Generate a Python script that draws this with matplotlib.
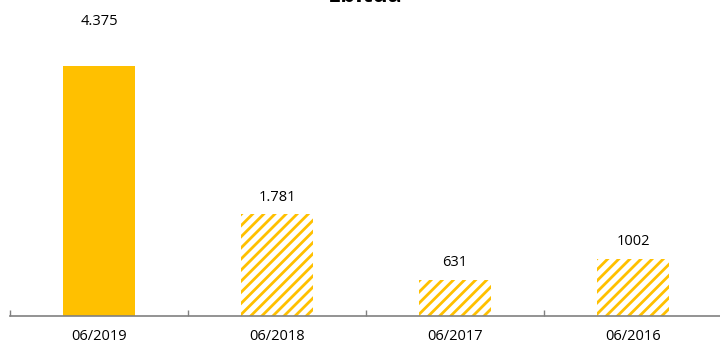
import matplotlib.pyplot as plt
import numpy as np

# chart data
categories = ['06/2019', '06/2018', '06/2017', '06/2016']
values = [4375, 1781, 631, 1002]
labels = ['4.375', '1.781', '631', '1002']
hatched = [False, True, True, True]

yellow = '#FFC000'
plt.rcParams['font.family'] = ['Open Sans', 'DejaVu Sans']
plt.rcParams['hatch.linewidth'] = 2.0
plt.rcParams['hatch.color'] = yellow

fig = plt.figure(figsize=(7.2, 3.43), dpi=100)
ax = fig.add_axes([10 / 720, 27 / 343, 712 / 720, 306 / 343])

x = np.arange(len(categories))
for xi, v, h in zip(x, values, hatched):
    if h:
        ax.bar(xi, v, width=0.4, color='white', edgecolor=yellow,
               linewidth=0, hatch='///')
    else:
        ax.bar(xi, v, width=0.4, color=yellow, linewidth=0)

# value labels (the first one sits higher in the original)
for xi, v, lab in zip(x, values, labels):
    off = 780 if xi == 0 else 300
    ax.text(xi, v + off, lab, ha='center', va='center', fontsize=10.5,
            color='#000000')

ax.set_xlim(-0.5, 3.5)
ax.set_ylim(0, 5355)
ax.set_xticks(x)
ax.set_xticklabels(categories, fontsize=10.5)
ax.set_xticks(np.arange(-0.5, 4, 1), minor=True)
ax.tick_params(axis='x', which='major', length=0, pad=9)
ax.tick_params(axis='x', which='minor', direction='in', length=4,
               color='#808080', width=1)
ax.set_yticks([])
for s in ['top', 'left', 'right']:
    ax.spines[s].set_visible(False)
ax.spines['bottom'].set_color('#808080')
ax.spines['bottom'].set_linewidth(1.2)

fig.text(0.507, 1 - 2 / 343, 'Ebitda', ha='center', va='baseline',
         fontsize=17, fontweight='bold')

fig.savefig('out.png', dpi=100)
